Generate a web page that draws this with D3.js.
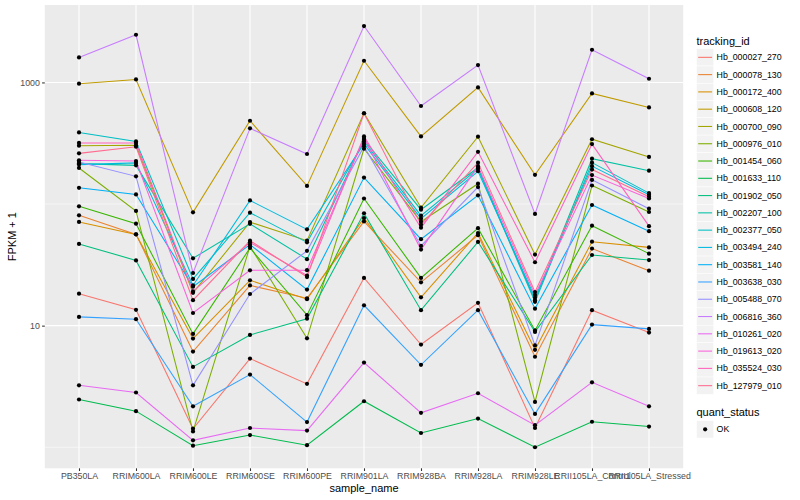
<!DOCTYPE html>
<html>
<head>
<meta charset="utf-8">
<script src="https://cdn.jsdelivr.net/npm/d3@7"></script>
<style>
  body { margin: 0; background: #fff; }
  svg { font-family: "Liberation Sans", Arial, Helvetica, sans-serif; }
</style>
</head>
<body>
<svg id="chart" width="800" height="500"></svg>
<script>
// sample order on the x axis
const samples = ["PB350LA", "RRIM600LA", "RRIM600LE", "RRIM600SE", "RRIM600PE", "RRIM901LA",
  "RRIM928BA", "RRIM928LA", "RRIM928LE", "RRII105LA_Control", "RRII105LA_Stressed"];

const trackingIds = ["Hb_000027_270", "Hb_000078_130", "Hb_000172_400", "Hb_000608_120", "Hb_000700_090",
  "Hb_000976_010", "Hb_001454_060", "Hb_001633_110", "Hb_001902_050", "Hb_002207_100", "Hb_002377_050",
  "Hb_003494_240", "Hb_003581_140", "Hb_003638_030", "Hb_005488_070", "Hb_006816_360", "Hb_010261_020",
  "Hb_019613_020", "Hb_035524_030", "Hb_127979_010"];

// FPKM + 1 per gene, one value per sample (same order as samples)
const hb_000027_270 = [18.3, 13.5, 1.42, 5.36, 3.32, 24.7, 6.99, 15.4, 1.44, 13.4, 8.77];
const hb_000078_130 = [80.7, 56.3, 6.12, 21.4, 16.8, 72.0, 22.7, 55.5, 5.55, 43.0, 28.3];
const hb_000172_400 = [71.2, 56.3, 7.83, 23.6, 16.5, 76.8, 17.1, 57.8, 6.33, 49.0, 44.0];
const hb_000608_120 = [976, 1058, 85.4, 484, 141, 1508, 360, 910, 174, 812, 623];
const hb_000700_090 = [302, 304, 18.6, 71.0, 50.0, 558, 93.4, 358, 38.4, 341, 244];
const hb_000976_010 = [198, 87.7, 1.35, 44.9, 7.87, 285, 71.6, 147, 2.36, 142, 86.0];
const hb_001454_060 = [95.7, 69.0, 8.55, 43.5, 12.2, 111, 24.7, 63.3, 9.14, 66.4, 39.1];
const hb_001633_110 = [2.47, 1.98, 1.03, 1.26, 1.04, 2.39, 1.31, 1.72, 1.00, 1.62, 1.48];
const hb_001902_050 = [47.0, 34.4, 4.58, 8.39, 11.4, 83.8, 13.4, 48.8, 8.88, 38.1, 34.6];
const hb_002207_100 = [215, 208, 35.8, 68.7, 35.2, 338, 89.9, 199, 16.2, 236, 188];
const hb_002377_050 = [388, 327, 24.2, 84.9, 48.4, 327, 80.2, 195, 15.7, 219, 123];
const hb_003494_240 = [211, 218, 21.4, 107, 61.9, 312, 75.8, 186, 17.0, 205, 119];
const hb_003581_140 = [136, 120, 20.9, 46.4, 19.8, 165, 51.4, 118, 13.8, 98.2, 59.8];
const hb_003638_030 = [11.8, 11.3, 2.17, 3.96, 1.61, 14.7, 4.76, 13.4, 1.88, 10.2, 9.40];
const hb_005488_070 = [222, 169, 3.23, 18.2, 41.2, 298, 45.2, 138, 6.88, 158, 91.6];
const hb_006816_360 = [1605, 2466, 27.1, 419, 258, 2908, 640, 1390, 82.9, 1857, 1072];
const hb_010261_020 = [3.23, 2.82, 1.14, 1.44, 1.37, 4.97, 1.92, 2.78, 1.52, 3.42, 2.17];
const hb_019613_020 = [229, 226, 12.7, 28.5, 28.6, 349, 42.2, 205, 17.9, 173, 111];
const hb_035524_030 = [318, 318, 19.1, 48.4, 25.8, 360, 63.9, 269, 33.2, 311, 65.8];
const hb_127979_010 = [261, 296, 16.2, 50.0, 25.1, 558, 67.7, 219, 18.9, 192, 115];

const quantStatus = ["OK"];
const yTicks = [10, 1000];
const yMinorTicks = [1, 100];

// ggplot default hue palette for 20 groups
const palette = ["#F8766D", "#EA8331", "#D89000", "#C09B00", "#A3A500", "#7CAE00", "#39B600", "#00BB4E",
  "#00BF7D", "#00C1A3", "#00BFC4", "#00BAE0", "#00B0F6", "#35A2FF", "#9590FF", "#C77CFF", "#E76BF3",
  "#FA62DB", "#FF62BC", "#FF6C91"];

const seriesValues = [hb_000027_270, hb_000078_130, hb_000172_400, hb_000608_120, hb_000700_090,
  hb_000976_010, hb_001454_060, hb_001633_110, hb_001902_050, hb_002207_100, hb_002377_050,
  hb_003494_240, hb_003581_140, hb_003638_030, hb_005488_070, hb_006816_360, hb_010261_020,
  hb_019613_020, hb_035524_030, hb_127979_010];
const series = trackingIds.map((id, i) => ({ id, color: palette[i], values: seriesValues[i] }));

const svg = d3.select("#chart");
const width = 800, height = 500;
const margin = { top: 5, right: 116.8, bottom: 31.7, left: 44.8 };
const chartWidth = width - margin.left - margin.right;
const chartHeight = height - margin.top - margin.bottom;

const g = svg.append("g").attr("transform", `translate(${margin.left},${margin.top})`);

// scales: discrete x with 0.6 expansion, log y with 5% expansion like ggplot
const xScale = d3.scalePoint().domain(samples).range([0, chartWidth]).padding(0.6);

const logExtent = d3.extent(seriesValues.flat()).map(Math.log10);
const logPad = (logExtent[1] - logExtent[0]) * 0.05;
const yScale = d3.scaleLog()
  .domain([Math.pow(10, logExtent[0] - logPad), Math.pow(10, logExtent[1] + logPad)])
  .range([chartHeight, 0]);

// panel
g.append("rect")
  .attr("width", chartWidth)
  .attr("height", chartHeight)
  .attr("fill", "#EBEBEB");

// grid
g.selectAll(".minor-y")
  .data(yMinorTicks)
  .enter().append("line")
  .attr("x1", 0).attr("x2", chartWidth)
  .attr("y1", d => yScale(d)).attr("y2", d => yScale(d))
  .attr("stroke", "#fff").attr("stroke-width", 0.53);

g.selectAll(".major-y")
  .data(yTicks)
  .enter().append("line")
  .attr("x1", 0).attr("x2", chartWidth)
  .attr("y1", d => yScale(d)).attr("y2", d => yScale(d))
  .attr("stroke", "#fff").attr("stroke-width", 1.07);

g.selectAll(".major-x")
  .data(samples)
  .enter().append("line")
  .attr("x1", d => xScale(d)).attr("x2", d => xScale(d))
  .attr("y1", 0).attr("y2", chartHeight)
  .attr("stroke", "#fff").attr("stroke-width", 1.07);

// axes
const yAxis = d3.axisLeft(yScale).tickValues(yTicks).tickFormat(d3.format("d")).tickSize(2.7).tickPadding(2.2);
const yAxisG = g.append("g").call(yAxis);

const xAxis = d3.axisBottom(xScale).tickSize(2.7).tickPadding(2.2);
const xAxisG = g.append("g").attr("transform", `translate(0,${chartHeight})`).call(xAxis);

[yAxisG, xAxisG].forEach(ax => {
  ax.select(".domain").remove();
  ax.selectAll(".tick line").attr("stroke", "#333333").attr("stroke-width", 1.07);
  ax.selectAll(".tick text").attr("fill", "#4D4D4D").style("font-size", "8.8px")
    .style("font-family", "\"Liberation Sans\", Arial, sans-serif");
});

// axis titles
g.append("text")
  .attr("x", chartWidth / 2)
  .attr("y", chartHeight + 23.5)
  .attr("text-anchor", "middle")
  .style("font-size", "11px")
  .text("sample_name");

svg.append("text")
  .attr("transform", `translate(16,${margin.top + chartHeight / 2}) rotate(-90)`)
  .attr("text-anchor", "middle")
  .style("font-size", "11px")
  .text("FPKM + 1");

// lines
const line = d3.line()
  .x((d, i) => xScale(samples[i]))
  .y(d => yScale(d));

g.selectAll(".gene")
  .data(series)
  .enter().append("path")
  .attr("d", d => line(d.values))
  .attr("fill", "none")
  .attr("stroke", d => d.color)
  .attr("stroke-width", 1.07);

// points on top
const points = series.flatMap(s => s.values.map((v, i) => ({ sample: samples[i], value: v, status: quantStatus[0] })));
g.selectAll(".pt")
  .data(points)
  .enter().append("circle")
  .attr("cx", d => xScale(d.sample))
  .attr("cy", d => yScale(d.value))
  .attr("r", 2.1)
  .attr("fill", "#000");

// legend: tracking_id
const keySize = 17.28;
const legend = svg.append("g").attr("transform", "translate(696.5,0)");

legend.append("text")
  .attr("x", 0).attr("y", 44.6)
  .style("font-size", "11px")
  .text("tracking_id");

const keys = legend.selectAll(".key")
  .data(series)
  .enter().append("g")
  .attr("transform", (d, i) => `translate(0,${48.7 + i * keySize})`);

keys.append("rect")
  .attr("width", keySize).attr("height", keySize)
  .attr("fill", "#F2F2F2").attr("stroke", "#fff").attr("stroke-width", 0.5);

keys.append("line")
  .attr("x1", 1.7).attr("x2", keySize - 1.7)
  .attr("y1", keySize / 2).attr("y2", keySize / 2)
  .attr("stroke", d => d.color).attr("stroke-width", 1.07);

keys.append("text")
  .attr("x", keySize + 2.8)
  .attr("y", keySize / 2)
  .attr("dy", "0.35em")
  .style("font-size", "8.8px")
  .text(d => d.id);

// legend: quant_status
legend.append("text")
  .attr("x", 0).attr("y", 416.3)
  .style("font-size", "11px")
  .text("quant_status");

const statusKeys = legend.selectAll(".status")
  .data(quantStatus)
  .enter().append("g")
  .attr("transform", (d, i) => `translate(0,${420.7 + i * keySize})`);

statusKeys.append("rect")
  .attr("width", keySize).attr("height", keySize)
  .attr("fill", "#F2F2F2").attr("stroke", "#fff").attr("stroke-width", 0.5);

statusKeys.append("circle")
  .attr("cx", keySize / 2).attr("cy", keySize / 2)
  .attr("r", 2.1).attr("fill", "#000");

statusKeys.append("text")
  .attr("x", keySize + 2.8)
  .attr("y", keySize / 2)
  .attr("dy", "0.35em")
  .style("font-size", "8.8px")
  .text(d => d);
</script>
</body>
</html>
